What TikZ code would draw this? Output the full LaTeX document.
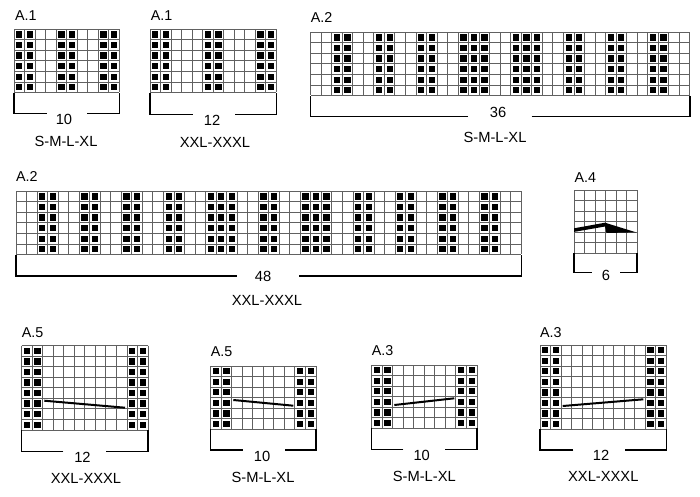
\documentclass[tikz,border=0pt]{standalone}
\usepackage{fontspec}
\setmainfont{Liberation Sans}
\newcommand{\kcell}{10.53}
% grid: x, y (top-left), cols, rows
\newcommand{\kgrid}[4]{%
  \foreach \i in {0,...,#3}{\draw[gridl] ({#1+\i*\kcell},#2) -- ++(0,{#4*\kcell});}
  \foreach \j in {0,...,#4}{\draw[gridl] (#1,{#2+\j*\kcell}) -- ++({#3*\kcell},0);}
}
% filled stitches: x, y, rows, list of columns
\newcommand{\kfill}[4]{%
  \foreach \c in {#4}{\foreach \r in {1,...,#3}{%
    \fill[black] ({#1+(\c-1)*\kcell+2.1},{#2+(\r-1)*\kcell+2.1}) rectangle ++(6.3,6.3);}}
}
% bracket: xl, xr, ytop, ybot, gap left, gap right
\newcommand{\kbrack}[6]{%
  \draw[brk] (#5,#4) -- (#1,#4) -- (#1,#3);
  \draw[brk] (#6,#4) -- (#2,#4) -- (#2,#3);
}
\begin{document}
\begin{tikzpicture}[x=1pt,y=-1pt,
  gridl/.style={draw=black!62,line width=0.9pt},
  brk/.style={draw=black,line width=1.5pt,line join=miter},
  ttl/.style={anchor=west,inner sep=0pt,font=\fontsize{14.3}{14.3}\selectfont},
  lbl/.style={inner sep=0pt,font=\fontsize{14.7}{14.7}\selectfont},
  diag/.style={draw=black,line width=2pt}]
\useasboundingbox (0,0) rectangle (700,496);
\fill[white] (0,0) rectangle (700,496);

% ---- A.1 S-M-L-XL
\kfill{14}{29.3}{6}{1,2,5,6,9,10}
\kgrid{14}{29.3}{10}{6}
\kbrack{14}{119.3}{92.5}{113.3}{46.7}{87.3}
\node[ttl] (t1) at (15,16) {A.1};
\node[lbl] (n1) at (64,119) {10};
\node[lbl] (s1) at (66,141) {S-M-L-XL};

% ---- A.1 XXL-XXXL
\kfill{150}{29.3}{6}{1,2,6,7,11,12}
\kgrid{150}{29.3}{12}{6}
\kbrack{150}{276.4}{92.5}{114.3}{192.7}{235}
\node[ttl] (t2) at (150.7,15.5) {A.1};
\node[lbl] (n2) at (212,120) {12};
\node[lbl] (s2) at (215,142.5) {XXL-XXXL};

% ---- A.2 S-M-L-XL
\kfill{310.7}{32.3}{6}{3,4,7,8,11,12,15,16,17,20,21,22,25,26,29,30,33,34}
\kgrid{310.7}{32.3}{36}{6}
\kbrack{310.7}{689.8}{95.5}{116.7}{468}{531.7}
\node[ttl] (t3) at (310.7,18) {A.2};
\node[lbl] (n3) at (498,112.7) {36};
\node[lbl] (s3) at (495,137.5) {S-M-L-XL};

% ---- A.2 XXL-XXXL
\kfill{16}{191.3}{6}{3,4,7,8,11,12,15,16,19,20,21,24,25,28,29,30,33,34,37,38,41,42,45,46}
\kgrid{16}{191.3}{48}{6}
\kbrack{16}{521.4}{254.5}{276}{236.7}{299.3}
\node[ttl] (t4) at (16,177) {A.2};
\node[lbl] (n4) at (263,276) {48};
\node[lbl] (s4) at (267,300.5) {XXL-XXXL};

% ---- A.4
\kgrid{574}{190}{6}{6}
\fill[black] (574,228.3) -- (605,222.7) -- (636,232.3) -- (606.5,233) -- (605,226.5) -- (574,231.9) -- cycle;
\kbrack{574}{637.2}{253.2}{272.7}{591.7}{620}
\node[ttl] (t5) at (574.3,178) {A.4};
\node[lbl] (n5) at (606,275.7) {6};

% ---- A.5 XXL-XXXL
\kfill{21.7}{345.7}{8}{1,2,11,12}
\kgrid{21.7}{345.7}{12}{8}
\draw[diag] (44.3,400.7) -- (125,407.7);
\kbrack{21.7}{148}{429.9}{451.7}{63.3}{106}
\node[ttl] (t6) at (21.7,333) {A.5};
\node[lbl] (n6) at (82.5,457.7) {12};
\node[lbl] (s6) at (86,478) {XXL-XXXL};

% ---- A.5 S-M-L-XL
\kfill{210.7}{366}{6}{1,2,9,10}
\kgrid{210.7}{366}{10}{6}
\draw[diag] (233.3,400) -- (293.3,405.7);
\kbrack{210.7}{316}{429.2}{450}{242.7}{285}
\node[ttl] (t7) at (210.7,352) {A.5};
\node[lbl] (n7) at (262,456) {10};
\node[lbl] (s7) at (263,477.5) {S-M-L-XL};

% ---- A.3 S-M-L-XL
\kfill{371.7}{365}{6}{1,2,9,10}
\kgrid{371.7}{365}{10}{6}
\draw[diag] (394.3,405) -- (454.3,398.3);
\kbrack{371.7}{477}{428.2}{449.3}{403.3}{445}
\node[ttl] (t8) at (371.7,351) {A.3};
\node[lbl] (n8) at (421.7,455) {10};
\node[lbl] (s8) at (424.3,476.7) {S-M-L-XL};

% ---- A.3 XXL-XXXL
\kfill{540}{345}{8}{1,2,11,12}
\kgrid{540}{345}{12}{8}
\draw[diag] (562.7,406) -- (643.3,399.3);
\kbrack{540}{666.4}{429.2}{450}{573.3}{625}
\node[ttl] (t9) at (540,333) {A.3};
\node[lbl] (n9) at (601,455.7) {12};
\node[lbl] (s9) at (603.3,476.7) {XXL-XXXL};
\end{tikzpicture}
\end{document}
